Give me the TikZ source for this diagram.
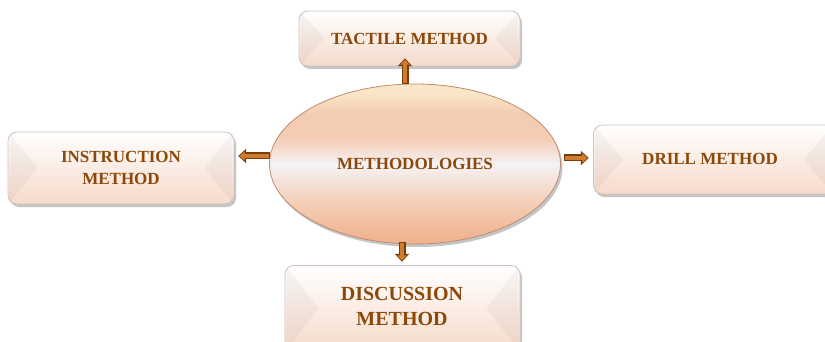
\documentclass[tikz,border=0pt]{standalone}
\usepackage{fontspec}
\setmainfont{Liberation Serif}
\usetikzlibrary{shadows,arrows.meta,shapes.geometric,calc}
\definecolor{txtbrown}{RGB}{140,72,8}
\definecolor{boxedge}{RGB}{205,195,195}
\definecolor{peach}{RGB}{246,218,202}
\definecolor{peachdeep}{RGB}{240,180,145}
\definecolor{peachmid}{RGB}{244,204,180}
\definecolor{band}{RGB}{245,242,244}
\definecolor{glow}{RGB}{250,230,200}
\definecolor{rim}{RGB}{190,140,110}
\definecolor{arrowdark}{RGB}{120,60,10}
\definecolor{arrowlight}{RGB}{205,125,45}
% vertical shading for the hub (visible part 25bp..75bp): deep peach below,
% light band in the middle, soft glow along the top
\pgfdeclareverticalshading{hubshade}{100bp}{
  color(0bp)=(peachdeep); color(27bp)=(peachdeep); color(37bp)=(peachmid);
  color(50bp)=(band); color(58bp)=(peachmid); color(66bp)=(peachmid);
  color(72bp)=(glow); color(100bp)=(glow)}
\tikzset{
  methodbox/.style={draw=boxedge, line width=0.8pt, rounded corners=9pt,
    top color=white, bottom color=peach, middle color=white!50!peach,
    drop shadow={shadow xshift=2pt, shadow yshift=-3pt, fill=black!45, opacity=0.5},
    text=txtbrown, font=\bfseries\fontsize{17}{22}\selectfont, align=center, inner sep=0pt},
  bevel/.style={fill=black, opacity=0.035},
  hub/.style={draw=rim, line width=0.8pt, ellipse, shading=hubshade,
    drop shadow={shadow xshift=2pt, shadow yshift=-3pt, fill=black!45, opacity=0.5},
    text=txtbrown, font=\bfseries\fontsize{17}{22}\selectfont, inner sep=0pt},
  linkouter/.style={line width=7pt, arrowdark, -{Triangle[length=8pt,width=14pt]}, shorten >=1.2pt},
  linkinner/.style={line width=4pt, arrowlight, -{Triangle[length=5pt,width=9pt]}, shorten >=2.6pt, shorten <=1pt},
}
\newcommand{\boxbevel}[2]{%
  \fill[bevel] ($(#1.north west)+(2,2)$) -- ($(#1.west)+(#2,0)$) -- ($(#1.south west)+(2,-2)$) -- cycle;
  \fill[bevel] ($(#1.north east)+(-2,2)$) -- ($(#1.east)+(-#2,0)$) -- ($(#1.south east)+(-2,-2)$) -- cycle;}
\begin{document}
\begin{tikzpicture}[x=1pt,y=-1pt]
\useasboundingbox (0,0) rectangle (825,342);
% central ellipse
\node[hub, minimum width=291pt, minimum height=160pt] (hub) at (415,164) {METHODOLOGIES};

% surrounding method boxes
\node[methodbox, minimum width=221pt, minimum height=55pt] (tactile) at (409.5,38.5) {TACTILE METHOD};
\node[methodbox, minimum width=226pt, minimum height=72pt] (instr) at (121,168) {INSTRUCTION\\METHOD};
\node[methodbox, minimum width=240pt, minimum height=69pt, anchor=west] (drill) at (593,159.5) {};
\node[methodbox, minimum width=235pt, minimum height=86pt, anchor=north] (disc) at (402.5,265) {};
\boxbevel{tactile}{26}
\boxbevel{instr}{30}
\boxbevel{drill}{30}
\boxbevel{disc}{34}
\node[text=txtbrown, font=\bfseries\fontsize{17}{22}\selectfont] (drilltext) at (710,159) {DRILL METHOD};
\node[text=txtbrown, font=\bfseries\fontsize{20}{25}\selectfont, align=center] (disctext) at (402,306) {DISCUSSION\\METHOD};

% connectors from the hub
\coordinate (up0) at (405,84);
\coordinate (up1) at (405,57);
\coordinate (lf0) at (270,156);
\coordinate (lf1) at (237,156);
\coordinate (rt0) at (564,158);
\coordinate (rt1) at (590,158);
\coordinate (dn0) at (402,242);
\coordinate (dn1) at (402,263);
\foreach \a/\b in {up0/up1, lf0/lf1, rt0/rt1, dn0/dn1}{
  \draw[linkouter] (\a) -- (\b);
  \draw[linkinner] (\a) -- (\b);
}
\end{tikzpicture}
\end{document}
